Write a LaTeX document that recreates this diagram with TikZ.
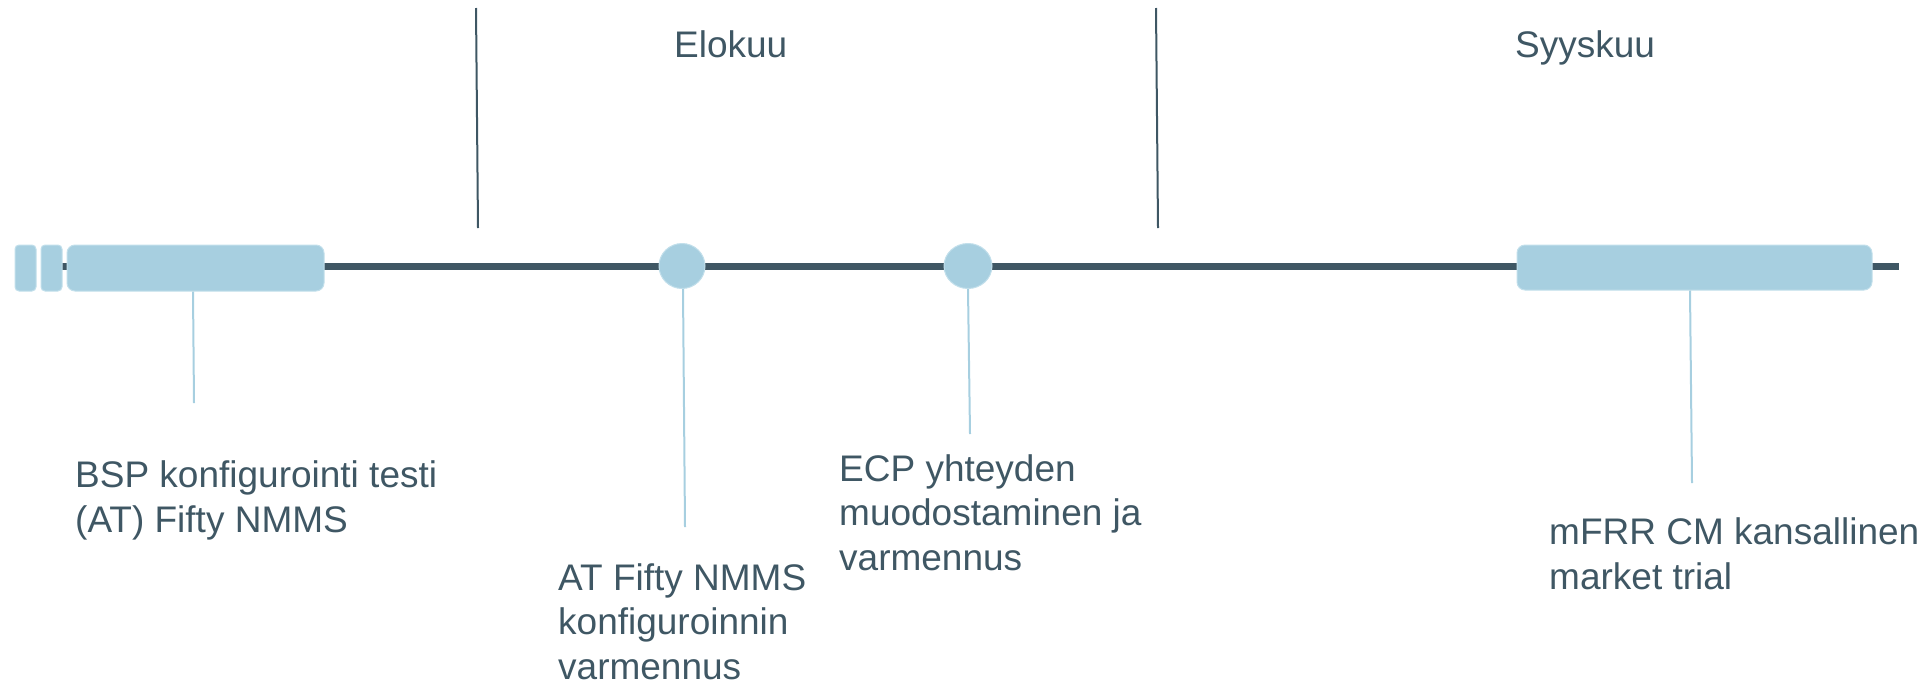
\documentclass[tikz,border=0pt]{standalone}
\usepackage{fontspec}
\setmainfont{Liberation Sans}
\usetikzlibrary{shapes.geometric}
\definecolor{slate}{HTML}{3F5764}
\definecolor{lblue}{HTML}{A7CFE0}
\definecolor{lborder}{HTML}{C2DFEB}
\begin{document}
\begin{tikzpicture}[x=1pt,y=-1pt,
  lbl/.style={anchor=base west, inner sep=0pt, align=left, text=slate, font=\fontsize{37}{44.4}\selectfont},
  bar/.style={fill=lblue, draw=lborder, line width=1pt, rounded corners=8pt, inner sep=0pt},
  smallbar/.style={bar, rounded corners=4pt, minimum width=21pt, minimum height=46pt},
  ms/.style={ellipse, fill=lblue, draw=lborder, line width=1pt, inner sep=0pt},
  conn/.style={draw=lblue, line width=2pt},
  monthline/.style={draw=slate, line width=2pt},
  axis/.style={draw=slate, line width=6.5pt}
]
\useasboundingbox (0,0) rectangle (1932,686);
% axis
\coordinate (axL) at (60,266.5);
\coordinate (axR) at (1899,266.5);
\draw[axis] (axL) -- (axR);
% month separators
\coordinate (s1t) at (476,8);
\coordinate (s1b) at (478,228);
\coordinate (s2t) at (1156,8);
\coordinate (s2b) at (1158,228);
\draw[monthline] (s1t) -- (s1b);
\draw[monthline] (s2t) -- (s2b);
\node[lbl] (elo) at (674,57) {Elokuu};
\node[lbl] (syy) at (1515,57) {Syyskuu};
% bars and milestones
\node[smallbar] (b1) at (25.5,268) {};
\node[smallbar] (b2) at (51.5,268) {};
\node[bar, minimum width=257pt, minimum height=46pt] (b3) at (195.5,268) {};
\node[bar, minimum width=355pt, minimum height=45pt] (b4) at (1694.5,267.5) {};
\node[ms, minimum width=46pt, minimum height=45pt] (m1) at (682,266) {};
\node[ms, minimum width=48pt, minimum height=45pt] (m2) at (968,266) {};
% connectors
\coordinate (c3) at (194,403);
\coordinate (c1) at (685,527);
\coordinate (c2) at (970,434);
\coordinate (c4) at (1692,483);
\draw[conn] ([xshift=-1pt]b3.south -| c3) -- (c3);
\draw[conn] ([xshift=-2pt]m1.south -| c1) -- (c1);
\draw[conn] ([xshift=-2pt]m2.south -| c2) -- (c2);
\draw[conn] ([xshift=-2pt]b4.south -| c4) -- (c4);
% labels (anchor = baseline of last line)
\node[lbl] (t3) at (75,532) {BSP konfigurointi testi\\(AT) Fifty NMMS};
\node[lbl] (t1) at (558,679) {AT Fifty NMMS\\konfiguroinnin\\varmennus};
\node[lbl] (t2) at (839,570) {ECP yhteyden\\muodostaminen ja\\varmennus};
\node[lbl] (t4) at (1549,589) {mFRR CM kansallinen\\market trial};
\end{tikzpicture}
\end{document}
